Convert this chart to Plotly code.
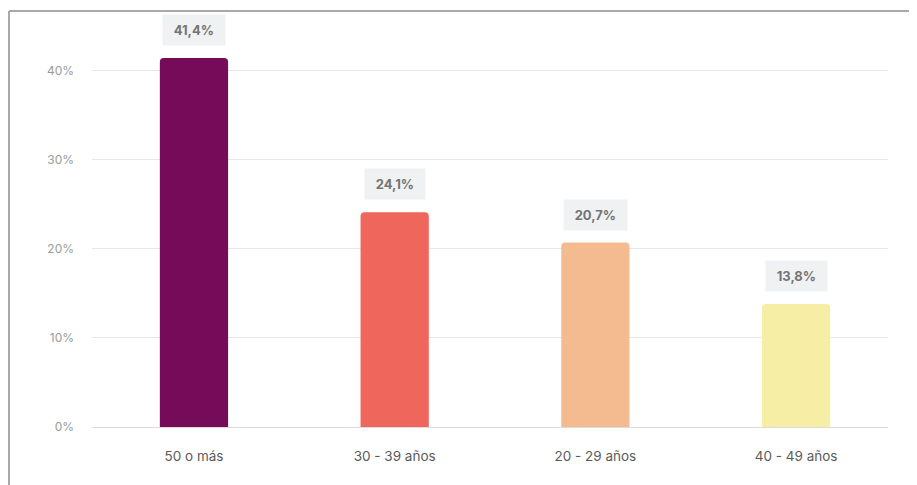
import plotly.graph_objects as go

categories = ["50 o más", "30 - 39 años", "20 - 29 años", "40 - 49 años"]
values = [41.4, 24.1, 20.7, 13.8]
colors = ["#760b5a", "#ef665d", "#f5bb90", "#f7eea5"]
y_ticks = [0, 10, 20, 30, 40]
y_tick_labels = ["0%", "10%", "20%", "30%", "40%"]

# page renders the figure with an 8px body offset
W, H = 909, 477
ml, mr, mt, mb = 84, 29, 18, 58
pw, ph = W - ml - mr, H - mt - mb

fig = go.Figure()
fig.add_trace(go.Bar(
    x=list(range(len(categories))),
    y=values,
    marker=dict(color=colors, line=dict(width=0), cornerradius=4),
    width=0.34,
    hoverinfo="skip",
))

pad = "\u00a0"
for i, v in enumerate(values):
    fig.add_annotation(
        x=i, y=v, xref="x", yref="y",
        text=pad + "<b>" + f"{v:.1f}".replace(".", ",") + "%</b>" + pad,
        showarrow=False, yanchor="bottom", yshift=12,
        bgcolor="#f0f1f2", borderpad=7,
        font=dict(family="Inter, Roboto, sans-serif", size=13, color="#747474"),
    )

# screenshot frame (top and left border)
fy = (H - mb - 3) / ph
fx = (1 - ml) / pw
fig.add_shape(type="line", xref="paper", yref="paper",
              x0=fx, x1=(W - ml) / pw, y0=fy, y1=fy,
              line=dict(color="#a9a9a9", width=2))
fig.add_shape(type="line", xref="paper", yref="paper",
              x0=fx, x1=fx, y0=fy, y1=-mb / ph,
              line=dict(color="#a9a9a9", width=2))

fig.update_layout(
    width=W, height=H,
    margin=dict(l=ml, r=mr, t=mt, b=mb),
    plot_bgcolor="white", paper_bgcolor="white",
    showlegend=False,
    font=dict(family="Inter, Roboto, sans-serif"),
    xaxis=dict(
        range=[-0.508, 3.458],
        tickmode="array", tickvals=list(range(len(categories))), ticktext=categories,
        showgrid=False, zeroline=False, showline=False, ticks="",
        tickfont=dict(size=13.5, color="#5a5a5a"),
        ticklabelstandoff=19,
    ),
    yaxis=dict(
        range=[0, 45],
        tickmode="array", tickvals=y_ticks, ticktext=y_tick_labels,
        showgrid=True, gridcolor="#e8e8e8", gridwidth=1,
        zeroline=True, zerolinecolor="#dcdcdc", zerolinewidth=1,
        showline=False, ticks="",
        tickfont=dict(size=12, color="#9a9a9a"),
        ticklabelstandoff=17,
    ),
)

fig.write_html("out.html")
